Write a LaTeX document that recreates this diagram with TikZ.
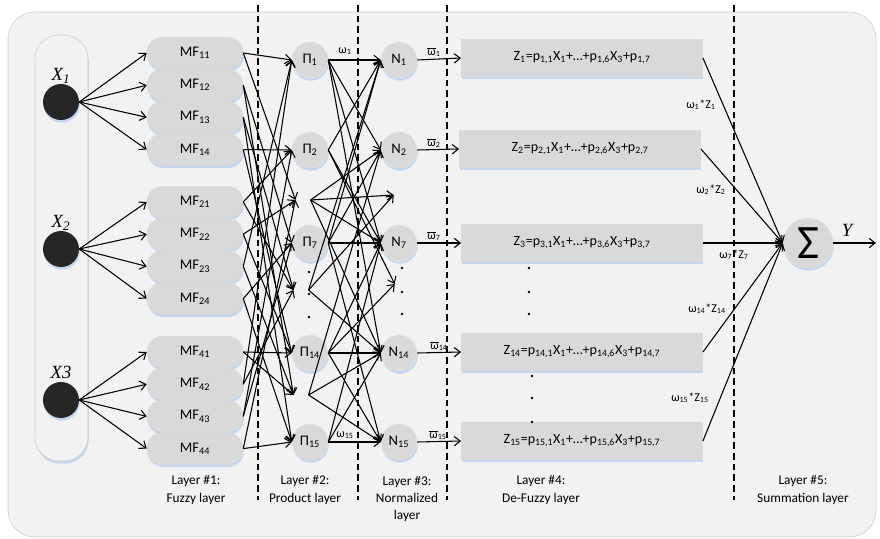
\documentclass[tikz,border=0pt]{standalone}
\usepackage{fontspec}
\setmainfont{Carlito}
\newfontfamily\timesfont{Liberation Serif}
\usetikzlibrary{shadows,arrows.meta}
\definecolor{shadowblue}{RGB}{196,215,238}
\definecolor{boxgray}{RGB}{217,217,217}
\definecolor{backgray}{RGB}{242,242,242}

\begin{document}
\begin{tikzpicture}[x=0.75pt, y=-0.75pt,
      >={Straight Barb[length=4.5pt,width=7pt]},
      every node/.style = {inner sep=0pt, font=\fontsize{10}{13}\selectfont},
      blueshadow/.style = {drop shadow={shadow xshift=0.6pt, shadow yshift=-2pt,
        fill=shadowblue, opacity=1}},
      mfbox/.style = {shape=rectangle, rounded corners=11.5pt, draw=gray!30,
        fill=boxgray, minimum width=72pt, minimum height=23.5pt, blueshadow,
        font=\fontsize{11}{13}\selectfont},
      rulenode/.style = {shape=circle, fill=boxgray, draw=gray!20,
        minimum size=27pt, blueshadow, font=\fontsize{11}{13}\selectfont},
      inputdot/.style = {shape=circle, fill=black!85, minimum size=27pt, blueshadow},
      zbox/.style = {shape=rectangle, fill=boxgray, draw=gray!30,
        minimum width=181pt, minimum height=27.5pt, blueshadow,
        font=\fontsize{10.5}{13}\selectfont},
      hub/.style = {shape=rectangle, minimum width=11pt},
      xlabel/.style = {font=\timesfont\itshape\fontsize{14}{14}\selectfont},
      wlabel/.style = {font=\fontsize{9}{10}\selectfont},
      layertext/.style = {align=center},
      conn/.style = {->, line width=0.8pt},
      layerline/.style = {line width=1.2pt, dash pattern=on 5pt off 3pt}]
  \useasboundingbox (0,0) rectangle (880,538);
  \draw[draw=gray!40, fill=backgray, rounded corners=20pt] (8,12) rectangle (876,537);
  \draw[draw=gray!40, fill=backgray, rounded corners=18pt, blueshadow] (35,35) rectangle (88,461);

  % inputs
  \node[inputdot] (x1) at (61,102) {};
  \node[inputdot] (x2) at (61,249) {};
  \node[inputdot] (x4) at (61,400) {};
  \node[xlabel] (lx1) at (61,76) {X\textsubscript{1}};
  \node[xlabel] (lx2) at (61,223) {X\textsubscript{2}};
  \node[xlabel] (lx4) at (61,372) {X3};

  % layer 1
  \foreach \g/\gy in {1/53, 2/202, 4/352}
    \foreach \i in {1,...,4}
      \node[mfbox] (mf\g\i) at (195,{\gy+32.2*(\i-1)}) {MF\textsubscript{\g\i}};
  \foreach \g in {1,2,4}
    \foreach \i in {1,...,4}
      \draw[conn] (x\g.east) -- (mf\g\i.west);

  % layer 2
  \node[rulenode] (p1) at (310,60) {Π\textsubscript{1}};
  \node[rulenode] (p2) at (310,150) {Π\textsubscript{2}};
  \node[rulenode] (p7) at (310,243) {Π\textsubscript{7}};
  \node[rulenode] (p14) at (310,353) {Π\textsubscript{14}};
  \node[rulenode] (p15) at (310,442) {Π\textsubscript{15}};
  \node[hub] (pa) at (303,200) {};
  \node[hub] (pb) at (301,290) {};
  \node[hub] (pc) at (301,395) {};
  \foreach \t/\a/\b/\c in {p1/1/3/2, p2/4/1/3, pa/1/2/4, p7/2/4/3,
                           pb/3/1/2, p14/4/2/1, pc/2/3/1, p15/3/4/4} {
    \draw[conn] (mf1\a.east) -- (\t.west);
    \draw[conn] (mf2\b.east) -- (\t.west);
    \draw[conn] (mf4\c.east) -- (\t.west);
  }
  \foreach \y in {272,294,317}
    \fill (309,\y) circle (1.1pt);

  % layer 3
  \node[rulenode] (n1) at (399,60) {N\textsubscript{1}};
  \node[rulenode] (n2) at (399,150) {N\textsubscript{2}};
  \node[rulenode] (n7) at (399,243) {N\textsubscript{7}};
  \node[rulenode] (n14) at (399,353) {N\textsubscript{14}};
  \node[rulenode] (n15) at (399,442) {N\textsubscript{15}};
  \node[hub, minimum width=0pt] (na) at (394,195) {};
  \node[hub, minimum width=0pt] (nb) at (395,284) {};
  \foreach \s/\tl in {p1/{n1,n2,n7,n14}, p2/{n1,n7,nb}, pa/{n2,na,n7,n14},
                      p7/{n1,n2,n7,n15}, pb/{n1,na,n14}, p14/{n7,n14,n15,nb},
                      pc/{n2,n14,n15}, p15/{n15,n7,n14}}
    \foreach \t in \tl
      \draw[conn] (\s.east) -- (\t.west);
  \foreach \y in {268,292,314}
    \fill (402,\y) circle (1.1pt);
  \node[wlabel] (w1) at (345,51) {ω\textsubscript{1}};
  \node[wlabel] (w15) at (345,435) {ω\textsubscript{15}};

  % layer 4
  \node[zbox] (z1) at (582,58) {Z\textsubscript{1}=p\textsubscript{1,1}X\textsubscript{1}+…+p\textsubscript{1,6}X\textsubscript{3}+p\textsubscript{1,7}};
  \node[zbox] (z2) at (580,149) {Z\textsubscript{2}=p\textsubscript{2,1}X\textsubscript{1}+…+p\textsubscript{2,6}X\textsubscript{3}+p\textsubscript{2,7}};
  \node[zbox] (z7) at (582,243) {Z\textsubscript{3}=p\textsubscript{3,1}X\textsubscript{1}+…+p\textsubscript{3,6}X\textsubscript{3}+p\textsubscript{3,7}};
  \node[zbox] (z14) at (582,352) {Z\textsubscript{14}=p\textsubscript{14,1}X\textsubscript{1}+…+p\textsubscript{14,6}X\textsubscript{3}+p\textsubscript{14,7}};
  \node[zbox] (z15) at (582,441) {Z\textsubscript{15}=p\textsubscript{15,1}X\textsubscript{1}+…+p\textsubscript{15,6}X\textsubscript{3}+p\textsubscript{15,7}};
  \foreach \n/\z in {1/1, 2/2, 7/7, 14/14, 15/15}
    \draw[conn] (n\n.east) -- (z\z.west);
  \foreach \n/\x/\y in {1/434/52, 2/434/143, 7/434/236, 14/439/346, 15/438/435}
    \node[wlabel] (wb\n) at (\x,\y) {$\overline{\mbox{ω}}$\textsubscript{\n}};
  \foreach \x/\y in {529/268, 529/292, 529/314, 532/376, 532/398, 532/422}
    \fill (\x,\y) circle (1.1pt);

  % layer 5
  \node[rulenode, minimum size=37.5pt] (sum) at (808,243) {\fontsize{36}{36}\selectfont Σ};
  \foreach \z in {1,2,7,14,15}
    \draw[conn] (z\z.east) -- (sum.west);
  \node[wlabel] (lz1) at (701,105) {ω\textsubscript{1}*Z\textsubscript{1}};
  \node[wlabel] (lz2) at (711,190) {ω\textsubscript{2}*Z\textsubscript{2}};
  \node[wlabel] (lz7) at (734,255) {ω\textsubscript{7}*Z\textsubscript{7}};
  \node[wlabel] (lz14) at (707,309) {ω\textsubscript{14}*Z\textsubscript{14}};
  \node[wlabel] (lz15) at (690,398) {ω\textsubscript{15}*Z\textsubscript{15}};
  \coordinate (yout) at (876,243);
  \draw[conn] (sum.east) -- (yout);
  \node[xlabel] (ly) at (847,230) {Y};

  % separators and layer names
  \foreach \x in {258,358,447,734}
    \draw[layerline] (\x,5) -- (\x,500);
  \node[layertext] (l1) at (196,490) {Layer \#1:\\Fuzzy layer};
  \node[layertext] (l2) at (305,490) {Layer \#2:\\Product layer};
  \node[layertext] (l3) at (407,499) {Layer \#3:\\Normalized\\layer};
  \node[layertext] (l4) at (541,490) {Layer \#4:\\De-Fuzzy layer};
  \node[layertext] (l5) at (803,490) {Layer \#5:\\Summation layer};
\end{tikzpicture}
\end{document}
